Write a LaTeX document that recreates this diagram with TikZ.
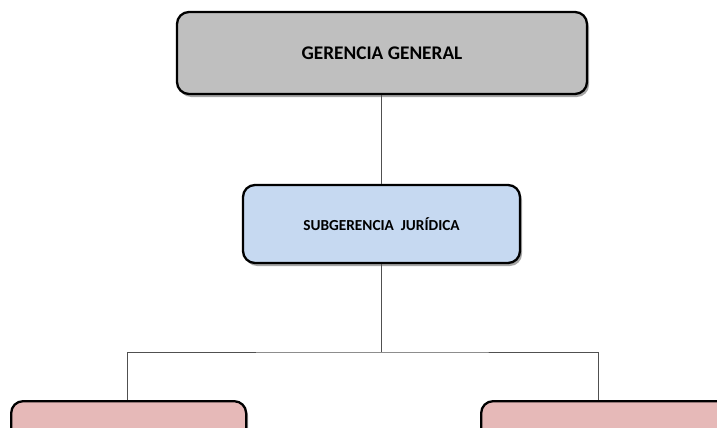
\documentclass[tikz,border=0pt]{standalone}
\usepackage{fontspec}
\setmainfont{Carlito}
\usetikzlibrary{shadows}
\definecolor{boxgrey}{HTML}{BFBFBF}
\definecolor{boxblue}{HTML}{C6D9F1}
\definecolor{boxpink}{HTML}{E6B9B8}
\definecolor{linegrey}{HTML}{505050}
\begin{document}
\begin{tikzpicture}[x=1pt,y=-1pt,
  orgbox/.style={draw=black, line width=2.3pt, rounded corners=12pt, inner sep=0pt,
    drop shadow={shadow xshift=2pt, shadow yshift=-3pt, opacity=0.35, fill=black}},
  link/.style={draw=linegrey, line width=0.9pt}]
\clip (0,0) rectangle (717,428);
\fill[white] (0,0) rectangle (717,428);
\node[orgbox, fill=boxgrey, minimum width=410pt, minimum height=82pt] (gg) at (382,53)
  {\raisebox{-2pt}{\fontsize{19.3}{22}\selectfont\bfseries GERENCIA GENERAL}};
\node[orgbox, fill=boxblue, minimum width=277pt, minimum height=78pt] (sj) at (381.5,224)
  {\fontsize{15.3}{18}\selectfont\bfseries SUBGERENCIA\ \ JURÍDICA};
\node[orgbox, fill=boxpink, minimum width=235pt, minimum height=90pt, anchor=north west] (l) at (10,400) {};
\node[orgbox, fill=boxpink, minimum width=260pt, minimum height=90pt, anchor=north west] (r) at (480,400) {};
\coordinate (j) at (381.5,352);
\draw[link] (gg.south -| j) -- (sj.north -| j);
\draw[link] (sj.south -| j) -- (j);
\draw[link] (l.north -| 127,0) |- (j) -| (r.north -| 598,0);
\end{tikzpicture}
\end{document}
